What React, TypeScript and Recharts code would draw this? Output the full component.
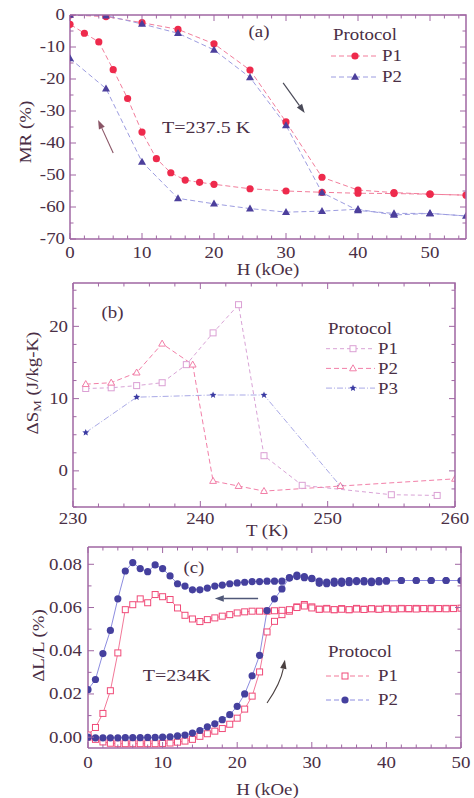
import React from 'react';
import { LineChart, Line, XAxis, YAxis, ReferenceLine, ReferenceDot, Legend, Label } from 'recharts';

const FONT = '"Liberation Serif", "Times New Roman", Times, serif';
const TEXT = '#4a2f45';
const FRAME = '#a067a3';
const SX = 1.18;

// ---------- Panel (a): MR vs H, T = 237.5 K ----------
const aP1UpH = [0, 5, 10, 15, 20, 25, 30, 35, 40, 45, 50, 55];
const aP1UpMR = [0, -0.5, -2.4, -4.5, -9, -17.2, -33.4, -50.7, -54.7, -55.5, -56, -56.3];
const aP1DownH = [50, 45, 40, 35, 30, 25, 20, 18, 16, 14, 12, 10, 8, 6, 4, 2, 0];
const aP1DownMR = [-56, -55.8, -55.7, -55.4, -55, -54.3, -52.9, -52.3, -51.6, -49.3, -44.9, -36.6, -26.1, -17.1, -8.4, -5.7, -2.9];
const aP2UpH = [0, 5, 10, 15, 20, 25, 30, 35, 40, 45, 50, 55];
const aP2UpMR = [0, -0.2, -2.8, -5.7, -10.9, -19.5, -34.5, -55.5, -61.1, -62, -62, -62.8];
const aP2DownH = [50, 45, 40, 35, 30, 25, 20, 15, 10, 5, 0];
const aP2DownMR = [-62, -62.5, -60.7, -61.3, -61.6, -60.5, -59, -57.3, -45.9, -23, -13.6];
const aXMajor = [0, 10, 20, 30, 40, 50];
const aYMajor = [-70, -60, -50, -40, -30, -20, -10, 0];

// ---------- Panel (b): ΔS_M vs T ----------
const bP1T = [231, 233, 235, 237, 238.9, 241, 243, 245, 248, 255, 258.6];
const bP1S = [11.4, 11.5, 11.8, 12.2, 14.7, 19.1, 23.0, 2.1, -2.0, -3.3, -3.4];
const bP2T = [231, 233, 235, 237, 239.4, 241, 243, 245, 251, 260];
const bP2S = [12.0, 12.2, 13.6, 17.6, 14.7, -1.4, -2.1, -2.8, -2.1, -1.1];
const bP3T = [231, 235, 241, 245, 251];
const bP3S = [5.3, 10.2, 10.5, 10.5, -2.1];
const bXMajor = [230, 240, 250, 260];
const bYMajor = [0, 10, 20];

// ---------- Panel (c): ΔL/L vs H, T = 234 K ----------
const cP1UpH = [0,1,2,3,4,5,6,7,8,9,10,11,12,13,14,15,16,17,18,19,20,21,22,23,24,25,26,27,28,29,30,31,32,33,34,35,36,37,38,39,40,41,42,43,44,45,46,47,48,49,50];
const cP1UpL = [0,-0.001,-0.0022,-0.0028,-0.003,-0.003,-0.003,-0.003,-0.003,-0.003,-0.0029,-0.0027,-0.0023,-0.0018,-0.001,0.0004,0.0016,0.0028,0.004,0.006,0.0088,0.013,0.019,0.0302,0.0487,0.0536,0.0567,0.0583,0.0603,0.0614,0.0603,0.0592,0.0596,0.059,0.0595,0.059,0.0596,0.0592,0.0595,0.0592,0.0596,0.0593,0.0596,0.0594,0.0596,0.0595,0.0596,0.0595,0.0596,0.0596,0.0597];
const cP1DownH = [49,48,47,46,45,44,43,42,41,40,39,38,37,36,35,34,33,32,31,30,29,28,27,26,25,24,23,22,21,20,19,18,17,16,15,14,13,12,11,10,9,8,7,6,5,4,3,2,1,0];
const cP1DownL = [0.0595,0.0594,0.0595,0.0594,0.0595,0.0593,0.0595,0.0594,0.0593,0.0594,0.0592,0.0594,0.0591,0.0593,0.059,0.0592,0.059,0.0593,0.0592,0.0598,0.0607,0.06,0.059,0.0587,0.0585,0.0583,0.0583,0.0583,0.058,0.0575,0.0567,0.056,0.0552,0.0544,0.0535,0.0547,0.0564,0.0598,0.0637,0.065,0.066,0.0622,0.064,0.0613,0.059,0.039,0.0215,0.011,0.0045,0.001];
const cP2UpH = [0,1,2,3,4,5,6,7,8,9,10,11,12,13,14,15,16,17,18,19,20,21,22,23,24,25,26,27,28,29,30,31,32,33,34,35,36,37,38,39,40,42,44,46,48,50];
const cP2UpL = [0,-0.0003,-0.0003,-0.0003,-0.0003,-0.0002,-0.0002,-0.0002,-0.0001,-0.0001,0,0.0002,0.0006,0.001,0.0019,0.0031,0.0048,0.0062,0.0081,0.0104,0.0143,0.02,0.0284,0.0379,0.0586,0.064,0.0686,0.0738,0.075,0.0743,0.0735,0.0712,0.0718,0.0712,0.0722,0.0715,0.0725,0.0718,0.0722,0.0718,0.0725,0.0725,0.0725,0.0725,0.0725,0.0725];
const cP2DownH = [48,46,44,42,40,39,38,37,36,35,34,33,32,31,30,29,28,27,26,25,24,23,22,21,20,19,18,17,16,15,14,13,12,11,10,9,8,7,6,5,4,3,2,1,0];
const cP2DownL = [0.0725,0.0725,0.0725,0.0725,0.0722,0.0725,0.0715,0.0725,0.072,0.0725,0.0712,0.0722,0.071,0.0722,0.0733,0.0738,0.0743,0.0736,0.0722,0.0722,0.0722,0.072,0.072,0.0717,0.0714,0.071,0.0704,0.0699,0.069,0.0682,0.0682,0.0699,0.071,0.0746,0.078,0.0797,0.0766,0.078,0.0808,0.0769,0.064,0.0494,0.0387,0.0267,0.022];
const cXMajor = [0, 10, 20, 30, 40, 50];
const cYMajor = [0, 0.02, 0.04, 0.06, 0.08];

const zip = (h: number[], v: number[]) => h.map((x, i) => ({ h: x, v: v[i] }));
const loop = (h1: number[], v1: number[], h2: number[], v2: number[]) => [...zip(h1, v1), ...zip(h2, v2)];

const steps = (a: number, b: number, s: number) => {
  const out: number[] = [];
  for (let k = 0; a + k * s <= b + 1e-9; k++) out.push(+(a + k * s).toFixed(6));
  return out;
};

function SText({ x, y, anchor = 'middle', size = 16, fill = TEXT, rotate = 0, children }: any) {
  return (
    <text
      transform={`translate(${x},${y}) rotate(${rotate}) scale(${SX},1)`}
      textAnchor={anchor}
      dominantBaseline="central"
      fontFamily={FONT}
      fontSize={size}
      fill={fill}
    >
      {children}
    </text>
  );
}

const isMajor = (majors: number[], v: number) => majors.some((m) => Math.abs(m - v) < 1e-7);

function makeTick(side: string, majors: number[], fmt: (v: number) => string, gap: number) {
  return (props: any) => {
    const { x, y, payload, index } = props;
    const v = payload.value;
    const major = isMajor(majors, v);
    const len = major ? 6 : 3.5;
    const x2 = side === 'left' ? x + len : x;
    const y2 = side === 'bottom' ? y - len : y;
    let label = null;
    if (major) {
      label = side === 'bottom'
        ? <SText x={x} y={y + gap}>{fmt(v)}</SText>
        : <SText x={x - gap} y={y} anchor="end">{fmt(v)}</SText>;
    }
    return (
      <g key={`tk-${side}-${index}`}>
        <line x1={x} y1={y} x2={x2} y2={y2} stroke={FRAME} strokeWidth={1} />
        {label}
      </g>
    );
  };
}

// Frame overlay: closes the plot box and mirrors inward ticks on the top and right edges.
function FrameOverlay({ box, xT, yT, xDom, yDom, xMaj, yMaj, w, h }: any) {
  const { x, y, width, height } = box;
  const fx = (t: number) => x + ((t - xDom[0]) / (xDom[1] - xDom[0])) * width;
  const fy = (t: number) => y + height - ((t - yDom[0]) / (yDom[1] - yDom[0])) * height;
  return (
    <svg width={w} height={h} viewBox={`0 0 ${w} ${h}`}
      style={{ position: 'absolute', left: 0, top: 0, pointerEvents: 'none', zIndex: 10, overflow: 'visible' }}>
      <path d={`M${x},${y} H${x + width} V${y + height}`} fill="none" stroke={FRAME} strokeWidth={1.5} />
      {xT.map((t: number, i: number) => {
        const len = isMajor(xMaj, t) ? 6 : 3.5;
        return <line key={`ft${i}`} x1={fx(t)} y1={y} x2={fx(t)} y2={y + len} stroke={FRAME} strokeWidth={1} />;
      })}
      {yT.map((t: number, i: number) => {
        const len = isMajor(yMaj, t) ? 6 : 3.5;
        return <line key={`fr${i}`} x1={x + width} y1={fy(t)} x2={x + width - len} y2={fy(t)} stroke={FRAME} strokeWidth={1} />;
      })}
    </svg>
  );
}

function Marker({ kind, cx, cy, color }: any) {
  if (cx == null || cy == null) return null;
  switch (kind) {
    case 'circle':
      return <circle cx={cx} cy={cy} r={3.6} fill={color} />;
    case 'tri':
      return <polygon points={`${cx},${cy - 4.2} ${cx - 4},${cy + 2.8} ${cx + 4},${cy + 2.8}`} fill={color} />;
    case 'otri':
      return <polygon points={`${cx},${cy - 3.6} ${cx - 3.4},${cy + 2.4} ${cx + 3.4},${cy + 2.4}`} fill="#fff" stroke={color} strokeWidth={1} />;
    case 'sq':
      return <rect x={cx - 3} y={cy - 3} width={6} height={6} fill="#fff" stroke={color} strokeWidth={1} />;
    case 'star': {
      const pts: string[] = [];
      for (let k = 0; k < 10; k++) {
        const r = k % 2 === 0 ? 3.6 : 1.6;
        const a = -Math.PI / 2 + (k * Math.PI) / 5;
        pts.push(`${cx + r * Math.cos(a)},${cy + r * Math.sin(a)}`);
      }
      return <polygon points={pts.join(' ')} fill={color} />;
    }
    default:
      return null;
  }
}

const dotFn = (kind: string, color: string) => (p: any) => (
  <g key={`d-${kind}-${color}-${p.index}`}>
    <Marker kind={kind} cx={p.cx} cy={p.cy} color={color} />
  </g>
);

const arrowShape = (color: string, width = 1.2, bend = 0) => (p: any) => {
  const { x1, y1, x2, y2 } = p;
  if ([x1, y1, x2, y2].some((v) => v == null || isNaN(v))) return <g />;
  const mx = (x1 + x2) / 2, my = (y1 + y2) / 2;
  const dx = x2 - x1, dy = y2 - y1;
  const d = Math.hypot(dx, dy) || 1;
  const cxp = mx + (-dy / d) * bend, cyp = my + (dx / d) * bend;
  const ang = bend ? Math.atan2(y2 - cyp, x2 - cxp) : Math.atan2(dy, dx);
  const L = 9, W = 3.2;
  const bx = x2 - L * Math.cos(ang), by = y2 - L * Math.sin(ang);
  const px = -Math.sin(ang) * W, py = Math.cos(ang) * W;
  const path = bend ? `M${x1},${y1} Q${cxp},${cyp} ${bx},${by}` : `M${x1},${y1} L${bx},${by}`;
  return (
    <g>
      <path d={path} stroke={color} strokeWidth={width} fill="none" />
      <polygon points={`${x2},${y2} ${bx + px},${by + py} ${bx - px},${by - py}`} fill={color} />
    </g>
  );
};

const textShape = (s: React.ReactNode, size = 16) => (p: any) => <SText x={p.cx} y={p.cy} size={size}>{s}</SText>;

function LegendBox({ items, sampleW, markerX, labelX, rowH }: any) {
  const h = 22 + items.length * rowH;
  return (
    <svg width={120} height={h} style={{ overflow: 'visible', display: 'block' }}>
      <SText x={8} y={10} anchor="start">Protocol</SText>
      {items.map((it: any, i: number) => {
        const y = 10 + (i + 1) * rowH;
        return (
          <g key={it.label}>
            <line x1={6} y1={y} x2={6 + sampleW} y2={y} stroke={it.line} strokeWidth={1} strokeDasharray={it.dash} />
            <Marker kind={it.kind} cx={markerX} cy={y} color={it.color} />
            <SText x={labelX} y={y} anchor="start">{it.label}</SText>
          </g>
        );
      })}
    </svg>
  );
}

const axisLine = { stroke: FRAME, strokeWidth: 1.5 };

function PanelA() {
  const xT = steps(0, 55, 2);
  const yT = steps(-70, 0, 5);
  const xDom = [0, 55], yDom = [-70, 0];
  const p1 = loop(aP1UpH, aP1UpMR, aP1DownH, aP1DownMR);
  const p2 = loop(aP2UpH, aP2UpMR, aP2DownH, aP2DownMR);
  const W = 474, H = 280, m = { top: 15, right: 8, bottom: 0, left: 0 }, yW = 70, xH = 41;
  const box = { x: m.left + yW, y: m.top, width: W - m.left - yW - m.right, height: H - m.top - m.bottom - xH };
  return (
    <div style={{ position: 'relative', width: W, height: H }}>
      <LineChart width={W} height={H} margin={m}>
        <XAxis xAxisId="b" dataKey="h" type="number" domain={xDom} ticks={xT} interval={0} height={xH}
          tickSize={0} tickMargin={0} tickLine={false} axisLine={axisLine}
          tick={makeTick('bottom', aXMajor, String, 14)} allowDataOverflow>
          <Label content={(p: any) => <SText x={p.viewBox.x + p.viewBox.width / 2} y={p.viewBox.y + 31}>H (kOe)</SText>} />
        </XAxis>
        <YAxis yAxisId="l" type="number" domain={yDom} ticks={yT} interval={0} width={yW}
          tickSize={0} tickMargin={0} tickLine={false} axisLine={axisLine}
          tick={makeTick('left', aYMajor, String, 5)} allowDataOverflow>
          <Label content={(p: any) => <SText x={26} y={p.viewBox.y + p.viewBox.height / 2 + 5} rotate={-90}>MR (%)</SText>} />
        </YAxis>
        <Line xAxisId="b" yAxisId="l" data={p1} dataKey="v" type="linear" stroke="#f27d9b" strokeWidth={1} strokeDasharray="5 3"
          dot={dotFn('circle', '#ee2a4c')} activeDot={false} isAnimationActive={false} />
        <Line xAxisId="b" yAxisId="l" data={p2} dataKey="v" type="linear" stroke="#9c9ce0" strokeWidth={1} strokeDasharray="5 3"
          dot={dotFn('tri', '#4c3f9c')} activeDot={false} isAnimationActive={false} />
        <ReferenceLine xAxisId="b" yAxisId="l" segment={[{ x: 29.6, y: -21.2 }, { x: 32.6, y: -30.6 }]} shape={arrowShape('#4a4a58', 1.2)} />
        <ReferenceLine xAxisId="b" yAxisId="l" segment={[{ x: 6.0, y: -43.1 }, { x: 3.9, y: -32.8 }]} shape={arrowShape('#8a5566', 1.1)} />
        <ReferenceDot xAxisId="b" yAxisId="l" x={26.25} y={-5.3} r={0} shape={textShape('(a)')} />
        <ReferenceDot xAxisId="b" yAxisId="l" x={18.9} y={-35} r={0} shape={textShape('T=237.5 K', 17)} />
        <Legend layout="horizontal" verticalAlign="middle" align="center"
          wrapperStyle={{ left: 325, top: 25, width: 120, height: 70 }}
          content={() => (
            <LegendBox sampleW={45} markerX={30} labelX={57} rowH={21}
              items={[
                { label: 'P1', kind: 'circle', color: '#ee2a4c', line: '#f27d9b', dash: '5 3' },
                { label: 'P2', kind: 'tri', color: '#4c3f9c', line: '#9c9ce0', dash: '5 3' },
              ]} />
          )} />
      </LineChart>
      <FrameOverlay box={box} xT={xT} yT={yT} xDom={xDom} yDom={yDom} xMaj={aXMajor} yMaj={aYMajor} w={W} h={H} />
    </div>
  );
}

function PanelB() {
  const xT = steps(230, 260, 2);
  const yT = steps(-5, 25, 2.5);
  const xDom = [230, 260], yDom = [-5, 26];
  const W = 474, H = 285, m = { top: 25, right: 19, bottom: 0, left: 0 }, yW = 73, xH = 36;
  const box = { x: m.left + yW, y: m.top, width: W - m.left - yW - m.right, height: H - m.top - m.bottom - xH };
  return (
    <div style={{ position: 'relative', width: W, height: H }}>
      <LineChart width={W} height={H} margin={m}>
        <XAxis xAxisId="b" dataKey="h" type="number" domain={xDom} ticks={xT} interval={0} height={xH}
          tickSize={0} tickMargin={0} tickLine={false} axisLine={axisLine}
          tick={makeTick('bottom', bXMajor, String, 12)} allowDataOverflow>
          <Label content={(p: any) => <SText x={p.viewBox.x + p.viewBox.width / 2 + 3} y={p.viewBox.y + 24}>T (K)</SText>} />
        </XAxis>
        <YAxis yAxisId="l" type="number" domain={yDom} ticks={yT} interval={0} width={yW}
          tickSize={0} tickMargin={0} tickLine={false} axisLine={axisLine}
          tick={makeTick('left', bYMajor, String, 5)} allowDataOverflow>
          <Label content={(p: any) => (
            <text transform={`translate(33,${p.viewBox.y + p.viewBox.height / 2 - 12}) rotate(-90) scale(${SX},1)`}
              textAnchor="middle" dominantBaseline="central" fontFamily={FONT} fontSize={16} fill={TEXT}>
              <tspan>ΔS</tspan>
              <tspan fontSize={11} dy={4}>M</tspan>
              <tspan dy={-4}> (J/kg-K)</tspan>
            </text>
          )} />
        </YAxis>
        <Line xAxisId="b" yAxisId="l" data={zip(bP3T, bP3S)} dataKey="v" type="linear" stroke="#a9a9e6" strokeWidth={1} strokeDasharray="6 2 1 2"
          dot={dotFn('star', '#3a3aa2')} activeDot={false} isAnimationActive={false} />
        <Line xAxisId="b" yAxisId="l" data={zip(bP1T, bP1S)} dataKey="v" type="linear" stroke="#d9a3d6" strokeWidth={1} strokeDasharray="4 3"
          dot={dotFn('sq', '#dba0d4')} activeDot={false} isAnimationActive={false} />
        <Line xAxisId="b" yAxisId="l" data={zip(bP2T, bP2S)} dataKey="v" type="linear" stroke="#f27fa8" strokeWidth={1} strokeDasharray="5 3"
          dot={dotFn('otri', '#f27fa8')} activeDot={false} isAnimationActive={false} />
        <ReferenceDot xAxisId="b" yAxisId="l" x={233.1} y={21.9} r={0} shape={textShape('(b)')} />
        <Legend layout="horizontal" verticalAlign="middle" align="center"
          wrapperStyle={{ left: 320, top: 61, width: 120, height: 90 }}
          content={() => (
            <LegendBox sampleW={49} markerX={33} labelX={58} rowH={19.7}
              items={[
                { label: 'P1', kind: 'sq', color: '#dba0d4', line: '#d9a3d6', dash: '4 3' },
                { label: 'P2', kind: 'otri', color: '#f27fa8', line: '#f27fa8', dash: '5 3' },
                { label: 'P3', kind: 'star', color: '#3a3aa2', line: '#a9a9e6', dash: '6 2 1 2' },
              ]} />
          )} />
      </LineChart>
      <FrameOverlay box={box} xT={xT} yT={yT} xDom={xDom} yDom={yDom} xMaj={bXMajor} yMaj={bYMajor} w={W} h={H} />
    </div>
  );
}

function PanelC() {
  const xT = steps(0, 50, 2);
  const yT = steps(0, 0.08, 0.01);
  const xDom = [0, 50], yDom = [-0.005, 0.088];
  const p1 = loop(cP1UpH, cP1UpL, cP1DownH, cP1DownL);
  const p2 = loop(cP2UpH, cP2UpL, cP2DownH, cP2DownL);
  const W = 474, H = 276, m = { top: 25, right: 13, bottom: 0, left: 0 }, yW = 88, xH = 50;
  const box = { x: m.left + yW, y: m.top, width: W - m.left - yW - m.right, height: H - m.top - m.bottom - xH };
  return (
    <div style={{ position: 'relative', width: W, height: H }}>
      <LineChart width={W} height={H} margin={m}>
        <XAxis xAxisId="b" dataKey="h" type="number" domain={xDom} ticks={xT} interval={0} height={xH}
          tickSize={0} tickMargin={0} tickLine={false} axisLine={axisLine}
          tick={makeTick('bottom', cXMajor, String, 15)} allowDataOverflow>
          <Label content={(p: any) => <SText x={p.viewBox.x + p.viewBox.width / 2 - 7} y={p.viewBox.y + 42}>H (kOe)</SText>} />
        </XAxis>
        <YAxis yAxisId="l" type="number" domain={yDom} ticks={yT} interval={0} width={yW}
          tickSize={0} tickMargin={0} tickLine={false} axisLine={axisLine}
          tick={makeTick('left', cYMajor, (v) => v.toFixed(2), 6)} allowDataOverflow>
          <Label content={(p: any) => <SText x={39} y={p.viewBox.y + p.viewBox.height / 2 - 2} rotate={-90}>ΔL/L (%)</SText>} />
        </YAxis>
        <Line xAxisId="b" yAxisId="l" data={p1} dataKey="v" type="linear" stroke="#f27898" strokeWidth={1}
          dot={dotFn('sq', '#f04a78')} activeDot={false} isAnimationActive={false} />
        <Line xAxisId="b" yAxisId="l" data={p2} dataKey="v" type="linear" stroke="#8c8ce0" strokeWidth={1}
          dot={dotFn('circle', '#45409e')} activeDot={false} isAnimationActive={false} />
        <ReferenceLine xAxisId="b" yAxisId="l" segment={[{ x: 22.8, y: 0.0642 }, { x: 17.0, y: 0.0642 }]} shape={arrowShape('#505878', 1.6)} />
        <ReferenceLine xAxisId="b" yAxisId="l" segment={[{ x: 24.0, y: 0.0158 }, { x: 26.4, y: 0.0358 }]} shape={arrowShape('#4a4040', 1.1, 5)} />
        <ReferenceDot xAxisId="b" yAxisId="l" x={14.2} y={0.0786} r={0} shape={textShape('(c)')} />
        <ReferenceDot xAxisId="b" yAxisId="l" x={11.9} y={0.0288} r={0} shape={textShape('T=234K', 17)} />
        <Legend layout="horizontal" verticalAlign="middle" align="center"
          wrapperStyle={{ left: 320, top: 120, width: 120, height: 70 }}
          content={() => (
            <LegendBox sampleW={43} markerX={25} labelX={58} rowH={24}
              items={[
                { label: 'P1', kind: 'sq', color: '#f04a78', line: '#f27898', dash: '5 3' },
                { label: 'P2', kind: 'circle', color: '#45409e', line: '#8c8ce0', dash: '5 3' },
              ]} />
          )} />
      </LineChart>
      <FrameOverlay box={box} xT={xT} yT={yT} xDom={xDom} yDom={yDom} xMaj={cXMajor} yMaj={cYMajor} w={W} h={H} />
    </div>
  );
}

export default function App() {
  return (
    <div style={{ position: 'absolute', left: 0, top: 0, width: 474, height: 798, background: '#fff', overflow: 'hidden' }}>
      <div style={{ position: 'absolute', left: 0, top: 0 }}><PanelA /></div>
      <div style={{ position: 'absolute', left: 0, top: 258 }}><PanelB /></div>
      <div style={{ position: 'absolute', left: 0, top: 522 }}><PanelC /></div>
    </div>
  );
}
